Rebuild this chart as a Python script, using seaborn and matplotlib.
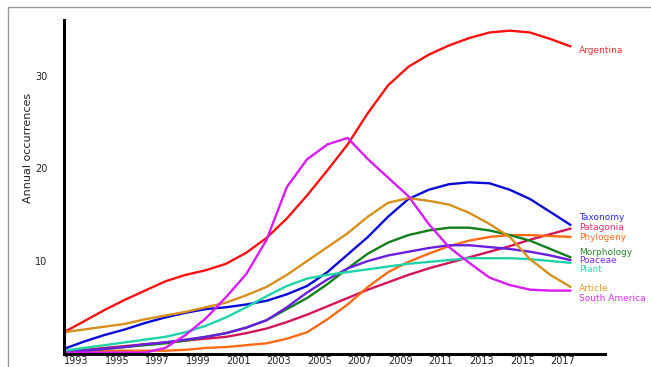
import matplotlib
matplotlib.use('Agg')
import matplotlib.pyplot as plt
from matplotlib.lines import Line2D
import seaborn as sns
import pandas as pd

years = list(range(1993, 2019))

argentina = [2.3, 3.5, 4.7, 5.8, 6.8, 7.8, 8.5, 9.0, 9.7, 10.9, 12.5, 14.6, 17.1,
             19.8, 22.6, 26.0, 29.0, 31.0, 32.3, 33.3, 34.1, 34.7, 34.9, 34.7, 34.0, 33.2]
taxonomy = [0.5, 1.3, 2.0, 2.6, 3.3, 3.9, 4.4, 4.8, 5.0, 5.3, 5.7, 6.4, 7.3,
            8.8, 10.7, 12.6, 14.8, 16.7, 17.7, 18.3, 18.5, 18.4, 17.7, 16.7, 15.3, 13.9]
patagonia = [0.2, 0.4, 0.6, 0.8, 1.0, 1.2, 1.4, 1.6, 1.8, 2.2, 2.7, 3.4, 4.2,
             5.1, 6.0, 6.9, 7.7, 8.5, 9.2, 9.8, 10.4, 11.0, 11.6, 12.3, 12.9, 13.5]
phylogeny = [0.2, 0.2, 0.3, 0.3, 0.3, 0.3, 0.4, 0.6, 0.7, 0.9, 1.1, 1.6, 2.3,
             3.7, 5.3, 7.2, 8.8, 9.9, 10.8, 11.6, 12.2, 12.6, 12.8, 12.8, 12.7, 12.6]
morphology = [0.2, 0.3, 0.5, 0.7, 0.9, 1.1, 1.4, 1.8, 2.2, 2.8, 3.6, 4.8, 6.0,
              7.5, 9.2, 10.8, 12.0, 12.8, 13.3, 13.6, 13.6, 13.3, 12.8, 12.2, 11.3, 10.4]
poaceae = [0.1, 0.3, 0.5, 0.7, 1.0, 1.2, 1.5, 1.8, 2.2, 2.8, 3.6, 5.0, 6.6,
           8.0, 9.2, 10.0, 10.6, 11.0, 11.4, 11.7, 11.7, 11.5, 11.3, 11.0, 10.6, 10.1]
plant = [0.3, 0.6, 0.9, 1.2, 1.5, 1.8, 2.3, 3.0, 3.9, 5.0, 6.2, 7.3, 8.1,
         8.5, 8.8, 9.1, 9.4, 9.7, 9.9, 10.1, 10.3, 10.3, 10.3, 10.2, 10.0, 9.8]
article = [2.3, 2.6, 2.9, 3.2, 3.7, 4.1, 4.5, 5.0, 5.5, 6.3, 7.2, 8.5, 10.0,
           11.5, 13.0, 14.8, 16.3, 16.8, 16.5, 16.1, 15.2, 14.0, 12.6, 10.2, 8.5, 7.2]
south_america = [0.1, 0.1, 0.1, 0.1, 0.1, 0.6, 2.0, 3.8, 6.1, 8.6, 12.3, 18.0, 21.0,
                 22.6, 23.3, 21.0, 19.0, 17.0, 14.0, 11.5, 9.8, 8.2, 7.4, 6.9, 6.8, 6.8]

series = {
    'Argentina': argentina,
    'Taxonomy': taxonomy,
    'Patagonia': patagonia,
    'Phylogeny': phylogeny,
    'Morphology': morphology,
    'Poaceae': poaceae,
    'Plant': plant,
    'Article': article,
    'South America': south_america,
}

colors = {
    'Argentina': '#ff1111',
    'Taxonomy': '#0a0ad8',
    'Patagonia': '#d4145a',
    'Phylogeny': '#ff6a14',
    'Morphology': '#12801a',
    'Poaceae': '#6a1ee0',
    'Plant': '#1fd3a8',
    'Article': '#d8901c',
    'South America': '#d81cf5',
}
label_colors = {
    'Argentina': '#f03030',
    'Taxonomy': '#2a2af0',
    'Patagonia': '#e0306a',
    'Phylogeny': '#ff7020',
    'Morphology': '#2a8a2a',
    'Poaceae': '#7a30e8',
    'Plant': '#22d8b0',
    'Article': '#dc9a30',
    'South America': '#dc30f8',
}
# label heights on the right (value units)
label_y = {
    'Argentina': 32.7, 'Taxonomy': 14.75, 'Patagonia': 13.6, 'Phylogeny': 12.5,
    'Morphology': 10.95, 'Poaceae': 10.0, 'Plant': 9.05, 'Article': 7.0,
    'South America': 5.9,
}

df = pd.DataFrame([
    {'year': y, 'value': v, 'term': name}
    for name, vals in series.items() for y, v in zip(years, vals)
])

sns.set_style('white')
plt.rcParams['font.family'] = ['DejaVu Sans']

fig = plt.figure(figsize=(6.51, 3.67), dpi=100)
ax = fig.add_axes([64 / 651, 1 - 353.5 / 367, 541 / 651, 333.5 / 367])

sns.lineplot(data=df, x='year', y='value', hue='term', palette=colors,
             linewidth=1.7, legend=False, ax=ax)

for name in series:
    ax.text(2018.4, label_y[name], name, color=label_colors[name],
            fontsize=6.5, va='center', ha='left', clip_on=False)

ax.set_xlim(1993, 2019.7)
ax.set_ylim(0, 36.05)
ax.set_xticks(range(1993, 2018, 2))
ax.set_xticklabels([str(y) for y in range(1993, 2018, 2)], ha='left')
ax.set_yticks([10, 20, 30])
ax.tick_params(axis='x', length=0, pad=1.5, labelsize=7, colors='#222222')
ax.tick_params(axis='y', length=0, pad=12, labelsize=7, colors='#222222')
ax.set_xlabel('')
ax.set_ylabel('Annual occurrences', fontsize=8, color='#222222')
ax.yaxis.set_label_coords(-0.057, 0.616)

for side in ['top', 'right']:
    ax.spines[side].set_visible(False)
for side in ['left', 'bottom']:
    ax.spines[side].set_color('black')
    ax.spines[side].set_linewidth(2.2)

# gray frame around the figure (top and left edges)
fig.add_artist(Line2D([8 / 651, 1], [1 - 6.5 / 367, 1 - 6.5 / 367],
                      color='#999999', linewidth=1.0, transform=fig.transFigure))
fig.add_artist(Line2D([8 / 651, 8 / 651], [0, 1 - 6.5 / 367],
                      color='#999999', linewidth=1.0, transform=fig.transFigure))

fig.savefig('out.png', dpi=100)
